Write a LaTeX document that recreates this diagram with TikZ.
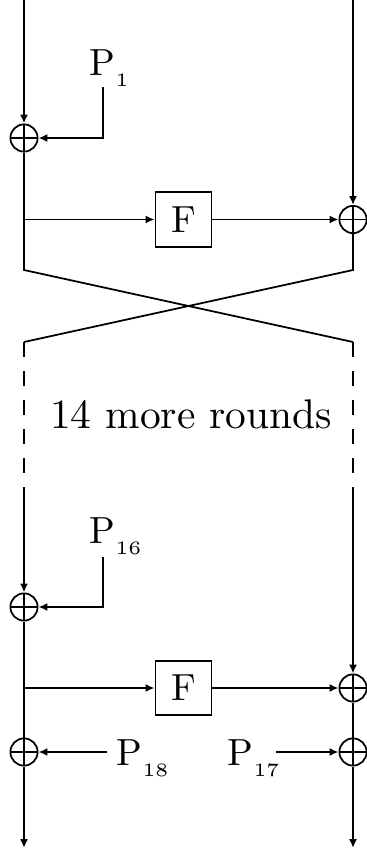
\documentclass[tikz,border=0pt]{standalone}
\usepackage{graphicx}
\usetikzlibrary{arrows.meta}
\newcommand\bigtxt[2]{\scalebox{#1}{\fontsize{10}{12}\selectfont #2}}
\newcommand\plab[1]{\bigtxt{2.15}{P\raisebox{-3.1pt}{\fontsize{5}{6}\selectfont #1}}}
\begin{document}
\begin{tikzpicture}[x=0.02cm,y=-0.02cm, line width=1pt,
  arr/.style={-{Latex[length=5pt,width=4.5pt]}},
  xorop/.style={circle,draw,minimum size=15.5pt,inner sep=0pt,
    path picture={\draw (path picture bounding box.north)--(path picture bounding box.south)
                        (path picture bounding box.west)--(path picture bounding box.east);}},
  fbox/.style={draw,minimum width=32pt,minimum height=31pt,inner sep=0pt},
  plabel/.style={anchor=base west,inner sep=0pt},
  dsh/.style={dash pattern=on 8.5pt off 8.05pt}]
\useasboundingbox (0,0) rectangle (367,850);
% coordinates
\coordinate (Ltop) at (24,0);
\coordinate (Rtop) at (353,0);
\coordinate (La) at (24,270);
\coordinate (Ra) at (353,270);
\coordinate (Lb) at (24,342);
\coordinate (Rb) at (353,342);
\coordinate (Ld) at (24,488);
\coordinate (Rd) at (353,488);
\coordinate (b1) at (24,219.5);
\coordinate (b2) at (24,688);
\coordinate (k1) at (103,87);
\coordinate (k2) at (103,557);
\coordinate (q18) at (107,752);
\coordinate (q17) at (276,752);
\coordinate (Lend) at (24,848);
\coordinate (Rend) at (353,848);
% nodes
\node[xorop] (x1) at (24,138) {};
\node[fbox] (f1) at (183.5,219.5) {\bigtxt{2.15}{F}};
\node[xorop] (x2) at (353,219.5) {};
\node[plabel] (p1) at (89,75) {\plab{1}};
\node[anchor=base,inner sep=0pt] (more) at (191,428) {\bigtxt{2.36}{14 more rounds}};
\node[xorop] (x3) at (24,607) {};
\node[plabel] (p16) at (89,543) {\plab{16}};
\node[fbox] (f2) at (183.5,688) {\bigtxt{2.15}{F}};
\node[xorop] (x4) at (353,688) {};
\node[xorop] (x5) at (24,752) {};
\node[xorop] (x6) at (353,752) {};
\node[plabel] (p18) at (116,765) {\plab{18}};
\node[plabel] (p17) at (227,765) {\plab{17}};
% connectors
\draw[arr] (Ltop) -- (x1);
\draw[arr] (k1) |- (x1);
\draw (x1) -- (La) -- (Rb);
\draw[arr] (Rtop) -- (x2);
\draw[arr] (b1) -- (f1);
\draw[arr] (f1) -- (x2);
\draw (x2) -- (Ra) -- (Lb);
\draw[dsh] (Lb) -- (Ld);
\draw[dsh] (Rb) -- (Rd);
\draw[arr] (Ld) -- (x3);
\draw[arr] (k2) |- (x3);
\draw (x3) -- (x5);
\draw[arr] (b2) -- (f2);
\draw[arr] (f2) -- (x4);
\draw[arr] (Rd) -- (x4);
\draw (x4) -- (x6);
\draw[arr] (q18) -- (x5);
\draw[arr] (q17) -- (x6);
\draw[arr] (x5) -- (Lend);
\draw[arr] (x6) -- (Rend);
\end{tikzpicture}
\end{document}
